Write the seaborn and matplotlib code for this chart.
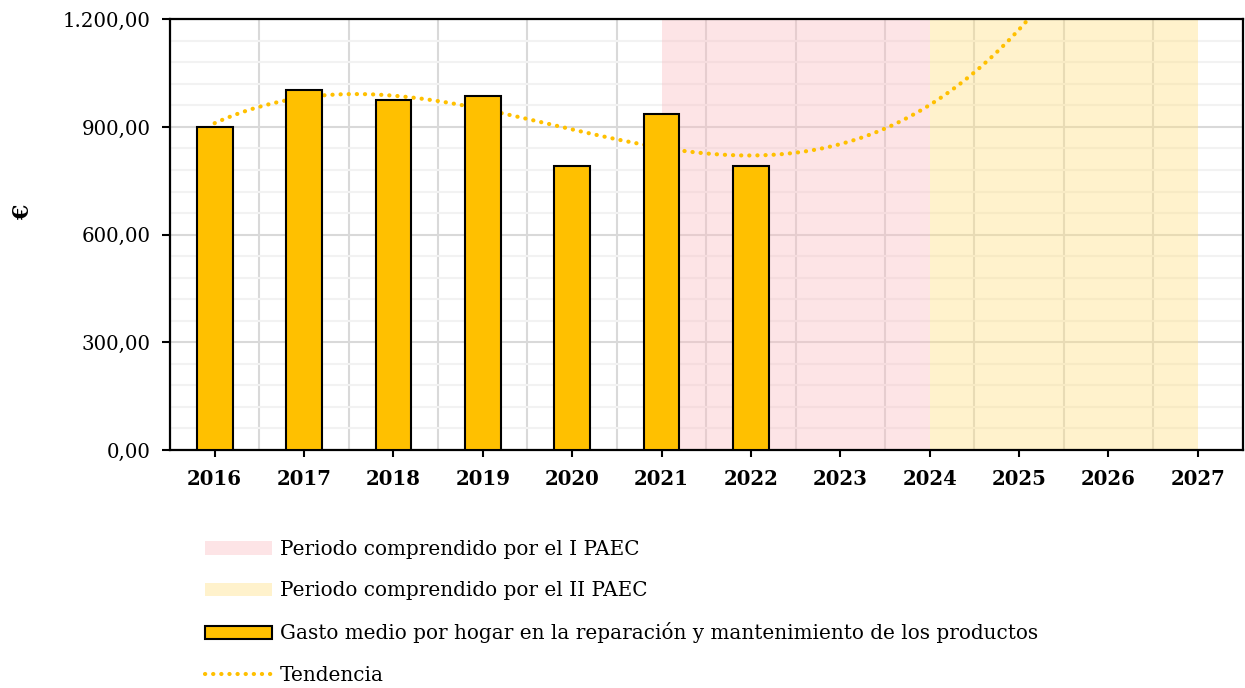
import numpy as np
import pandas as pd
import matplotlib
matplotlib.use('Agg')
import matplotlib.pyplot as plt
import seaborn as sns
from matplotlib.patches import Patch
from matplotlib.lines import Line2D
from matplotlib.ticker import MultipleLocator, FixedLocator, FuncFormatter

# datos
anios = ['2016', '2017', '2018', '2019', '2020', '2021', '2022',
         '2023', '2024', '2025', '2026', '2027']
anios_datos = ['2016', '2017', '2018', '2019', '2020', '2021', '2022']
gasto = [900, 1004, 976, 985, 792, 936, 792]
periodo_1 = ('2021', '2024')
periodo_2 = ('2024', '2027')

etiquetas_leyenda = ['Periodo comprendido por el I PAEC',
                     'Periodo comprendido por el II PAEC',
                     'Gasto medio por hogar en la reparación y mantenimiento de los productos',
                     'Tendencia']

amarillo = '#FFC000'
rosa = (250/255, 188/255, 193/255)
crema = (1.0, 223/255, 128/255)

sns.set_theme(style='white')
plt.rcParams['font.family'] = ['DejaVu Serif']
plt.rcParams.update({'text.color': 'black', 'axes.labelcolor': 'black',
                     'xtick.color': 'black', 'ytick.color': 'black'})

df = pd.DataFrame({'anio': anios_datos, 'gasto': gasto})

fig = plt.figure(figsize=(12.45, 6.88), dpi=100)
ax = fig.add_axes([0.1365, 0.346, 0.8615, 0.626])

sns.barplot(data=df, x='anio', y='gasto', order=anios, color=amarillo,
            saturation=1, width=0.4, edgecolor='black', linewidth=1.5,
            zorder=3, ax=ax)

# tendencia polinómica (orden 3) extendida hasta 2027
ax.set_xlim(0, len(anios) - 1)
sns.regplot(x=np.arange(len(gasto)), y=np.array(gasto, dtype=float), order=3,
            ci=None, scatter=False, truncate=False, ax=ax,
            line_kws=dict(color=amarillo, lw=3, linestyle=(0, (0.05, 1.9)),
                          dash_capstyle='round', zorder=2))
ax.set_xlim(-0.5, len(anios) - 0.5)
ax.set_ylim(0, 1200)

# periodos PAEC
ax.axvspan(anios.index(periodo_1[0]), anios.index(periodo_1[1]),
           color=rosa, alpha=0.4, lw=0, zorder=1)
ax.axvspan(anios.index(periodo_2[0]), anios.index(periodo_2[1]),
           color=crema, alpha=0.4, lw=0, zorder=1)

# rejilla
ax.set_axisbelow(True)
ax.yaxis.set_major_locator(MultipleLocator(300))
ax.yaxis.set_minor_locator(MultipleLocator(60))
ax.xaxis.set_minor_locator(FixedLocator(np.arange(-0.5, len(anios), 1)))
ax.grid(which='major', axis='y', color='#D9D9D9', lw=1.5)
ax.grid(which='minor', axis='y', color='#F2F2F2', lw=1.5)
ax.grid(which='minor', axis='x', color='#D9D9D9', lw=1.5)
ax.grid(which='major', axis='x', visible=False)

ax.yaxis.set_major_formatter(FuncFormatter(
    lambda v, p: f'{v:,.2f}'.replace(',', 'X').replace('.', ',').replace('X', '.')))

for s in ax.spines.values():
    s.set_color('black')
    s.set_linewidth(1.6)

ax.tick_params(axis='x', which='major', bottom=True, length=5, width=1.5,
               color='black', pad=9, labelsize=14.2)
ax.tick_params(axis='y', which='major', left=True, length=6, width=1.5,
               color='black', pad=8, labelsize=14.2)
ax.tick_params(which='minor', length=0)
for lbl in ax.get_xticklabels():
    lbl.set_fontweight('bold')

ax.set_xlabel('')
ax.set_ylabel('€', fontsize=16, fontweight='bold')
ax.yaxis.set_label_coords(-0.127, 0.552)

handles = [Patch(facecolor=rosa, alpha=0.4, lw=0),
           Patch(facecolor=crema, alpha=0.4, lw=0),
           Patch(facecolor=amarillo, edgecolor='black', lw=1.5),
           Line2D([0], [0], color=amarillo, lw=3, linestyle=(0, (0.05, 1.9)),
                  dash_capstyle='round')]
fig.legend(handles, etiquetas_leyenda, loc='upper left',
           bbox_to_anchor=(0.1647, 0.215), frameon=False, fontsize=14.4,
           handlelength=3.35, handleheight=0.65, handletextpad=0.4,
           labelspacing=1.11, borderaxespad=0, borderpad=0)

plt.savefig('out.png', dpi=100)
plt.close()
